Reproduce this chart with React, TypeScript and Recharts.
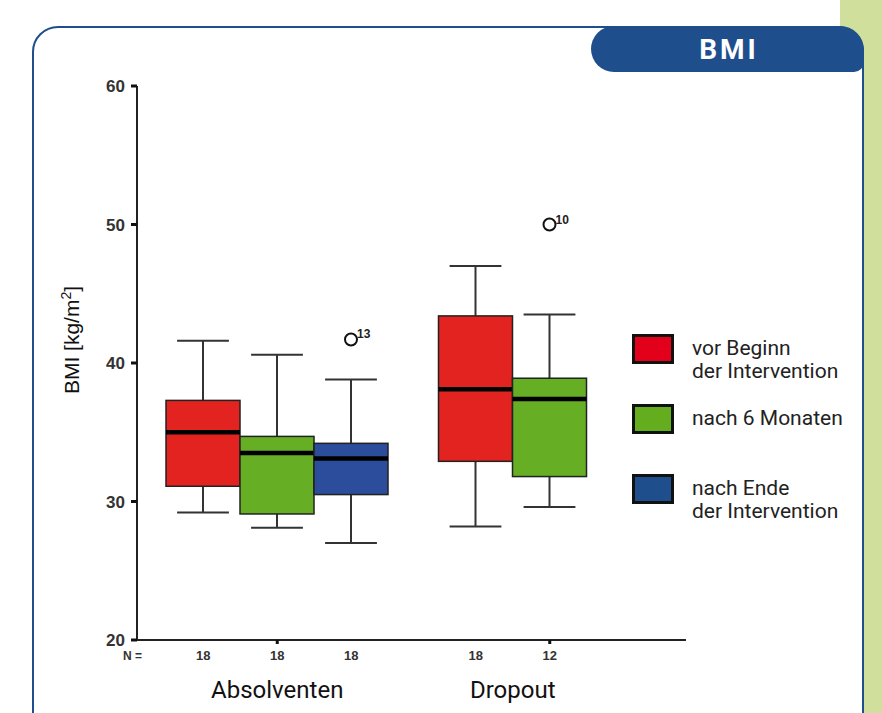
import React from "react";
import { ComposedChart, Bar, XAxis, YAxis } from "recharts";

const groups = ["Absolventen", "Dropout"];
const seriesNames = [
  ["vor Beginn", "der Intervention"],
  ["nach 6 Monaten"],
  ["nach Ende", "der Intervention"],
];
// [min, q1, median, q3, max] per group
const vorBeginn = [
  [29.2, 31.1, 35.0, 37.3, 41.6],
  [28.2, 32.9, 38.1, 43.4, 47.0],
];
const nach6Monaten = [
  [28.1, 29.1, 33.5, 34.7, 40.6],
  [29.6, 31.8, 37.4, 38.9, 43.5],
];
const nachEnde = [[27.0, 30.5, 33.1, 34.2, 38.8], null];
const nCounts = [
  [18, 18, 18],
  [18, 12, null],
];
const outliers = [
  { group: 0, series: 2, value: 41.7, label: "13" },
  { group: 1, series: 1, value: 50.0, label: "10" },
];
const yTicks = [20, 30, 40, 50, 60];

const boxColors = ["#e22320", "#66ae24", "#2c4c9c"];
const legendColors = ["#e3001b", "#64ad1f", "#1f4e8c"];
const frameBlue = "#1f4e8c";
const BOX_W = 74;
const FONT = "Roboto, 'Liberation Sans', sans-serif";
const ARIAL = "'Liberation Sans', Arial, sans-serif";

const allSeries = [vorBeginn, nach6Monaten, nachEnde];

const data = groups.map((name, gi) => ({
  name,
  stats: allSeries.map((s) => s[gi]),
  outs: allSeries.map((_, si) =>
    outliers.filter((o) => o.group === gi && o.series === si)
  ),
}));

function makeBoxShape(si: number) {
  return (props: any) => {
    const { x, y, width, height, payload } = props;
    const s = payload?.stats?.[si];
    if (!s || width == null || height == null) return <g />;
    const top = Math.min(y, y + height);
    const bot = Math.max(y, y + height);
    const [lo, q1, med, q3, hi] = s;
    const py = (v: number) => bot - ((v - lo) / (hi - lo)) * (bot - top);
    const cx = x + width / 2;
    const cap = width * 0.35;
    return (
      <g>
        <line x1={cx} x2={cx} y1={py(hi)} y2={py(q3)} stroke="#333" strokeWidth={2} />
        <line x1={cx} x2={cx} y1={py(q1)} y2={py(lo)} stroke="#333" strokeWidth={2} />
        <line x1={cx - cap} x2={cx + cap} y1={py(hi)} y2={py(hi)} stroke="#333" strokeWidth={2} />
        <line x1={cx - cap} x2={cx + cap} y1={py(lo)} y2={py(lo)} stroke="#333" strokeWidth={2} />
        <rect
          x={x}
          y={py(q3)}
          width={width}
          height={py(q1) - py(q3)}
          fill={boxColors[si]}
          stroke="#222"
          strokeWidth={1.5}
        />
        <line x1={x} x2={x + width} y1={py(med)} y2={py(med)} stroke="#000" strokeWidth={4.5} />
        {payload.outs[si].map((o: any, i: number) => (
          <g key={i}>
            <circle cx={cx} cy={py(o.value)} r={6} fill="#fff" stroke="#111" strokeWidth={2} />
            <text
              x={cx + 6}
              y={py(o.value) - 1}
              fontSize={12}
              fontWeight="bold"
              fontFamily={ARIAL}
              fill="#222"
            >
              {o.label}
            </text>
          </g>
        ))}
      </g>
    );
  };
}

function GroupTick(props: any) {
  const { x, y, payload } = props;
  const gi = payload.index;
  const counts = nCounts[gi];
  const offsets: number[] = [];
  counts.forEach((c, si) => {
    if (c != null) offsets.push((si - 1) * BOX_W);
  });
  const mid = offsets.reduce((a, b) => a + b, 0) / offsets.length;
  return (
    <g>
      {counts.map((c, si) =>
        c == null ? null : (
          <text
            key={si}
            x={x + (si - 1) * BOX_W}
            y={y + 11}
            textAnchor="middle"
            dominantBaseline="middle"
            fontSize={13}
            fontWeight="bold"
            fontFamily={ARIAL}
            fill="#333"
          >
            {c}
          </text>
        )
      )}
      <text
        x={x + mid}
        y={y + 52}
        textAnchor="middle"
        fontSize={24}
        fontFamily={FONT}
        fill="#111"
      >
        {payload.value}
      </text>
    </g>
  );
}

export default function App() {
  return (
    <div
      style={{
        position: "absolute",
        left: 0,
        top: 0,
        width: 882,
        height: 713,
        overflow: "hidden",
        background: "#fff",
        fontFamily: FONT,
      }}
    >
      {/* green side strip */}
      <div
        style={{ position: "absolute", left: 840, top: 0, width: 42, height: 713, background: "#d1df9c" }}
      />
      {/* frame */}
      <div
        style={{
          position: "absolute",
          left: 32,
          top: 26,
          width: 828,
          height: 720,
          border: `2px solid ${frameBlue}`,
          borderRadius: "26px 26px 0 0",
          background: "#fff",
        }}
      />
      {/* header tab */}
      <div
        style={{
          position: "absolute",
          left: 591,
          top: 26,
          width: 273,
          height: 46,
          background: frameBlue,
          borderRadius: "23px 24px 10px 23px",
          color: "#fff",
          fontWeight: "bold",
          fontSize: 28,
          letterSpacing: 3,
          display: "flex",
          alignItems: "center",
          justifyContent: "center",
          paddingLeft: 3,
          boxSizing: "border-box",
        }}
      >
        BMI
      </div>

      <div style={{ position: "absolute", left: 0, top: 0 }}>
        <ComposedChart
          width={882}
          height={713}
          data={data}
          margin={{ top: 86, right: 196, bottom: 3, left: 77 }}
          barGap={0}
        >
          <XAxis
            dataKey="name"
            height={70}
            padding={{ left: 4, right: 0 }}
            axisLine={{ stroke: "#222", strokeWidth: 2 }}
            tickLine={{ stroke: "#111", strokeWidth: 3 }}
            tickSize={4}
            tickMargin={2}
            tick={<GroupTick />}
          />
          <YAxis
            width={60}
            domain={[20, 60]}
            ticks={yTicks}
            interval={0}
            axisLine={{ stroke: "#222", strokeWidth: 2 }}
            tickLine={{ stroke: "#111", strokeWidth: 3 }}
            tickSize={6}
            tickMargin={6}
            tick={{
              fontSize: 17,
              fontWeight: "bold",
              fill: "#333",
              fontFamily: ARIAL,
            }}
          />
          {allSeries.map((_, si) => (
            <Bar
              key={si}
              dataKey={(row: any) =>
                row.stats[si] ? [row.stats[si][0], row.stats[si][4]] : null
              }
              barSize={BOX_W}
              shape={makeBoxShape(si)}
              isAnimationActive={false}
            />
          ))}
        </ComposedChart>
      </div>

      {/* N = */}
      <div
        style={{
          position: "absolute",
          left: 123,
          top: 649,
          fontSize: 12,
          fontWeight: "bold",
          color: "#333",
          fontFamily: ARIAL,
        }}
      >
        N =
      </div>

      {/* y axis label */}
      <div
        style={{
          position: "absolute",
          left: 71,
          top: 340,
          transform: "translate(-50%, -50%) rotate(-90deg)",
          whiteSpace: "nowrap",
          fontSize: 21,
          color: "#111",
          fontFamily: ARIAL,
        }}
      >
        BMI [kg/m<sup style={{ fontSize: 14 }}>2</sup>]
      </div>

      {/* legend */}
      {seriesNames.map((lines, si) => {
        const tops = [334, 404, 474];
        return (
          <div key={si} style={{ position: "absolute", left: 632, top: tops[si], display: "flex" }}>
            <div
              style={{
                width: 36,
                height: 24,
                background: legendColors[si],
                border: "3px solid #111",
              }}
            />
            <div
              style={{
                marginLeft: 18,
                marginTop: 3,
                fontSize: 21,
                lineHeight: "23px",
                color: "#222",
              }}
            >
              {lines.map((l, i) => (
                <div key={i}>{l}</div>
              ))}
            </div>
          </div>
        );
      })}
    </div>
  );
}
